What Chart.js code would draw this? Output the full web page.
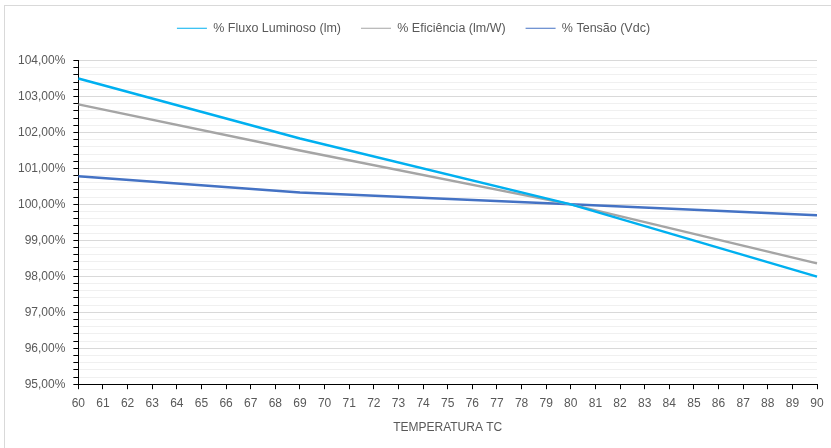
<!DOCTYPE html>
<html>
<head>
    <meta charset="utf-8">
    <title>Temperatura TC</title>
    <script src="https://cdn.jsdelivr.net/npm/chart.js" type="text/javascript"></script>
    <style>
        body { margin: 0; background: #fff; }
        #frame { position: absolute; left: 4px; top: 5px; width: 840px; height: 460px; border: 1px solid #d9d9d9; }
        #chart { position: absolute; left: 0; top: 0; }
    </style>
    <script type="text/javascript">

        // temperaturas 60..90
        var temps = [];
        for (var t = 60; t <= 90; t++) temps.push(String(t));

        var fluxo =      { 60: 103.50, 69: 101.83, 80: 100.00, 90: 97.99 };
        var eficiencia = { 60: 102.78, 69: 101.50, 80: 100.00, 90: 98.36 };
        var tensao =     { 60: 100.78, 69: 100.33, 80: 100.00, 90: 99.70 };

        var yMin = 95, yMax = 104, yStep = 0.2;

        function serie(pts) {
            return temps.map(function (t) { return pts[t] !== undefined ? pts[t] : null; });
        }

        function isMajor(v) {
            return Math.abs(v - Math.round(v)) < 1e-6;
        }

        // espaço extra abaixo da legenda
        var legendGap = {
            id: 'legendGap',
            beforeInit: function (chart) {
                var fit = chart.legend.fit;
                chart.legend.fit = function () {
                    fit.bind(chart.legend)();
                    this.height += 16;
                };
            }
        };

        window.onload = function () {
            var ctx = document.getElementById('chart').getContext('2d');
            Chart.defaults.font.family = '"Liberation Sans", Arial, sans-serif';
            Chart.defaults.font.size = 12;
            Chart.defaults.color = '#595959';

            new Chart(ctx, {
                type: 'line',
                data: {
                    labels: temps,
                    datasets: [
                        { label: '% Fluxo Luminoso (lm)', data: serie(fluxo), borderColor: '#00B0F0', backgroundColor: '#00B0F0' },
                        { label: '% Eficiência (lm/W)', data: serie(eficiencia), borderColor: '#A5A5A5', backgroundColor: '#A5A5A5' },
                        { label: '% Tensão (Vdc)', data: serie(tensao), borderColor: '#4472C4', backgroundColor: '#4472C4' }
                    ]
                },
                plugins: [legendGap],
                options: {
                    responsive: false,
                    animation: false,
                    spanGaps: true,
                    elements: {
                        line: { borderWidth: 2.5, tension: 0 },
                        point: { radius: 0, hoverRadius: 0 }
                    },
                    layout: { padding: { left: 10, right: 14, top: 2, bottom: 9 } },
                    plugins: {
                        tooltip: { enabled: false },
                        legend: {
                            position: 'top',
                            labels: {
                                usePointStyle: true,
                                pointStyle: 'line',
                                pointStyleWidth: 30,
                                padding: 20,
                                color: '#595959',
                                font: { size: 12.5 }
                            }
                        }
                    },
                    scales: {
                        x: {
                            offset: false,
                            border: { color: '#000', width: 1 },
                            grid: { drawOnChartArea: false, drawTicks: true, tickLength: 5, tickColor: '#000' },
                            ticks: { autoSkip: false, maxRotation: 0, padding: 7 },
                            title: { display: true, text: 'TEMPERATURA TC', color: '#595959', font: { size: 12 }, padding: { top: 3 } }
                        },
                        y: {
                            min: yMin,
                            max: yMax,
                            border: { color: '#000', width: 1 },
                            grid: {
                                color: function (c) { return isMajor(c.tick.value) ? '#d9d9d9' : '#f0f0f0'; },
                                tickColor: '#000',
                                tickLength: 5
                            },
                            ticks: {
                                stepSize: yStep,
                                autoSkip: false,
                                padding: 8,
                                callback: function (v) {
                                    if (!isMajor(v)) return '';
                                    return Math.round(v).toFixed(2).replace('.', ',') + '%';
                                }
                            }
                        }
                    }
                }
            });
        };

    </script>
</head>
<body>
    <div id="frame"></div>
    <canvas id="chart" width="831" height="448"></canvas>
</body>
</html>
